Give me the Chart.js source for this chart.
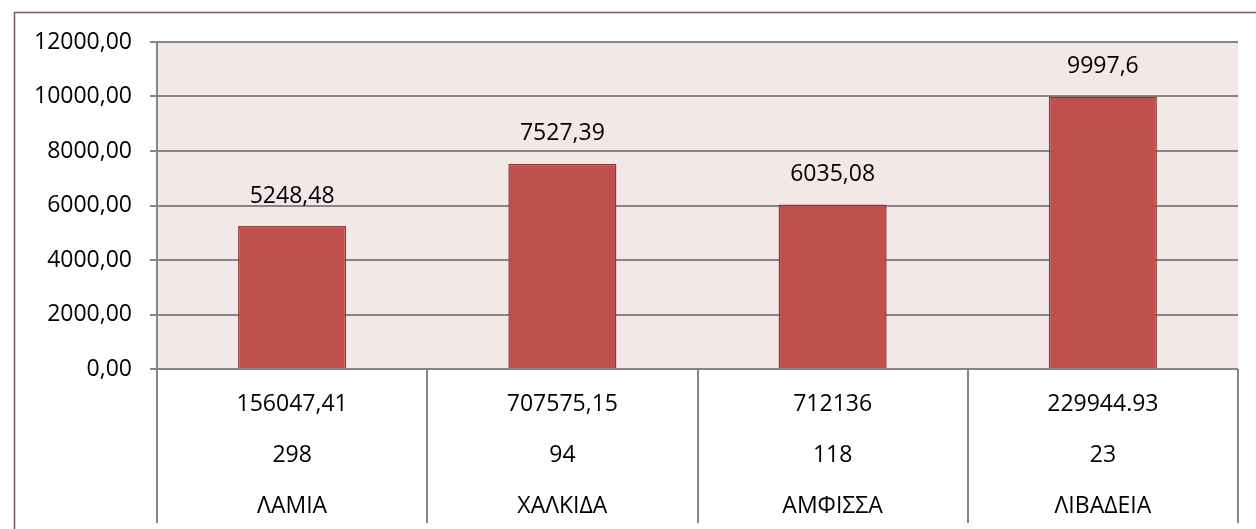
<!DOCTYPE html>
<html>
<head>
<meta charset="utf-8">
<script src="https://cdn.jsdelivr.net/npm/chart.js@4"></script>
<style>
html,body{margin:0;padding:0;background:#fff;}
#wrap{position:relative;width:1256px;height:529px;}
</style>
</head>
<body>
<div id="wrap"><canvas id="c" width="1256" height="529"></canvas></div>
<script>
const cities = ["ΛΑΜΙΑ", "ΧΑΛΚΙΔΑ", "ΑΜΦΙΣΣΑ", "ΛΙΒΑΔΕΙΑ"];
const firstRow = ["156047,41", "707575,15", "712136", "229944.93"];
const secondRow = ["298", "94", "118", "23"];
const values = [5248.48, 7527.39, 6035.08, 9997.6];
const valueLabels = ["5248,48", "7527,39", "6035,08", "9997,6"];
const yTicks = [0, 2000, 4000, 6000, 8000, 10000, 12000];

const FONT = "'Open Sans', 'DejaVu Sans', sans-serif";
const FS = 23;
const labels = cities.map((c, i) => [firstRow[i], secondRow[i], c]);

const decor = {
  id: 'decor',
  beforeDraw(chart) {
    const {ctx, chartArea: a} = chart;
    ctx.save();
    ctx.fillStyle = '#F2E8E8';
    ctx.fillRect(a.left, a.top, a.right - a.left, a.bottom - a.top);
    ctx.strokeStyle = '#7a5a5a';
    ctx.lineWidth = 1.5;
    ctx.beginPath();
    ctx.moveTo(14.5, 529);
    ctx.lineTo(14.5, 12.5);
    ctx.lineTo(1256, 12.5);
    ctx.stroke();
    ctx.restore();
  },
  afterDraw(chart) {
    const {ctx, chartArea: a} = chart;
    const x = chart.scales.x;
    ctx.save();
    ctx.strokeStyle = '#868686';
    ctx.lineWidth = 2;
    const n = cities.length;
    const w = (x.getPixelForValue(1) - x.getPixelForValue(0));
    ctx.beginPath();
    for (let i = 0; i <= n; i++) {
      const px = Math.round(x.getPixelForValue(i) - w / 2);
      ctx.moveTo(px, a.bottom);
      ctx.lineTo(px, 523);
    }
    ctx.stroke();
    const meta = chart.getDatasetMeta(0);
    ctx.fillStyle = '#000';
    ctx.font = FS + "px " + FONT;
    ctx.textAlign = 'center';
    ctx.textBaseline = 'middle';
    meta.data.forEach((bar, i) => {
      ctx.fillText(valueLabels[i], bar.x, bar.y - 30);
    });
    ctx.restore();
  }
};

new Chart(document.getElementById('c'), {
  type: 'bar',
  data: {
    labels: labels,
    datasets: [{
      data: values,
      backgroundColor: '#C0504D',
      borderColor: '#8C3A38',
      borderWidth: 1.5,
      borderSkipped: 'bottom',
      barPercentage: 0.4,
      categoryPercentage: 1.0
    }]
  },
  options: {
    responsive: false,
    animation: false,
    events: [],
    layout: {padding: {left: 0, right: 18, top: 42, bottom: 0}},
    plugins: {legend: {display: false}, tooltip: {enabled: false}},
    scales: {
      x: {
        afterFit(s) { s.height = 160; },
        grid: {display: false},
        border: {display: false},
        ticks: {
          color: '#000',
          font: {family: FONT, size: FS, lineHeight: 51 / FS},
          padding: 2,
          maxRotation: 0,
          autoSkip: false
        }
      },
      y: {
        min: 0,
        max: 12000,
        afterFit(s) { s.width = 157; },
        afterBuildTicks(s) { s.ticks = yTicks.map(v => ({value: v})); },
        grid: {color: '#868686', lineWidth: 2, tickLength: 7, drawTicks: true},
        border: {display: true, color: '#868686', width: 2},
        ticks: {
          color: '#000',
          font: {family: FONT, size: FS},
          padding: 18,
          callback: v => v.toFixed(2).replace('.', ',')
        }
      }
    }
  },
  plugins: [decor]
});
</script>
</body>
</html>
